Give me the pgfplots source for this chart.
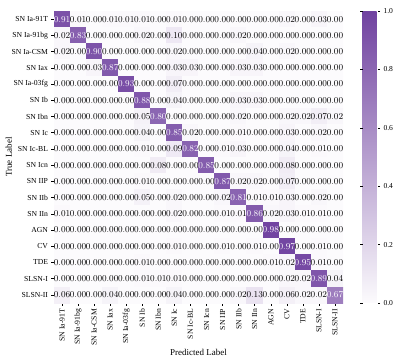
\documentclass[border=0pt]{standalone}
\usepackage{fontspec}
\setmainfont{Liberation Serif}
\usepackage{pgfplots}
\usepackage{pgfplotstable}
\pgfplotsset{compat=1.18}

% confusion matrix, rows = true label, read left to right, top to bottom
\pgfplotstableread[row sep=\\]{
v\\
0.91\\0.01\\0.00\\0.01\\0.01\\0.01\\0.00\\0.01\\0.00\\0.00\\0.00\\0.00\\0.00\\0.00\\0.02\\0.00\\0.03\\0.00\\
0.02\\0.83\\0.00\\0.00\\0.00\\0.02\\0.00\\0.10\\0.00\\0.00\\0.00\\0.02\\0.00\\0.00\\0.00\\0.00\\0.00\\0.00\\
0.02\\0.00\\0.90\\0.00\\0.00\\0.00\\0.00\\0.02\\0.00\\0.00\\0.00\\0.00\\0.04\\0.00\\0.02\\0.00\\0.00\\0.00\\
0.00\\0.00\\0.03\\0.87\\0.00\\0.00\\0.00\\0.03\\0.03\\0.00\\0.00\\0.03\\0.03\\0.00\\0.00\\0.00\\0.00\\0.00\\
0.00\\0.00\\0.00\\0.00\\0.93\\0.00\\0.00\\0.07\\0.00\\0.00\\0.00\\0.00\\0.00\\0.00\\0.00\\0.00\\0.00\\0.00\\
0.00\\0.00\\0.00\\0.00\\0.00\\0.88\\0.00\\0.04\\0.00\\0.00\\0.00\\0.03\\0.03\\0.00\\0.00\\0.00\\0.00\\0.00\\
0.00\\0.00\\0.00\\0.00\\0.00\\0.05\\0.80\\0.00\\0.00\\0.00\\0.00\\0.02\\0.00\\0.00\\0.02\\0.02\\0.07\\0.02\\
0.00\\0.00\\0.00\\0.00\\0.00\\0.04\\0.00\\0.85\\0.02\\0.00\\0.00\\0.01\\0.00\\0.00\\0.03\\0.00\\0.02\\0.00\\
0.00\\0.00\\0.00\\0.00\\0.00\\0.01\\0.00\\0.09\\0.82\\0.00\\0.01\\0.03\\0.00\\0.00\\0.04\\0.00\\0.01\\0.00\\
0.00\\0.00\\0.00\\0.00\\0.00\\0.00\\0.08\\0.00\\0.00\\0.85\\0.00\\0.00\\0.00\\0.00\\0.08\\0.00\\0.00\\0.00\\
0.00\\0.00\\0.00\\0.00\\0.00\\0.01\\0.00\\0.00\\0.00\\0.00\\0.87\\0.02\\0.02\\0.00\\0.07\\0.00\\0.00\\0.00\\
0.00\\0.00\\0.00\\0.00\\0.00\\0.05\\0.00\\0.02\\0.00\\0.00\\0.02\\0.81\\0.01\\0.01\\0.03\\0.00\\0.02\\0.00\\
0.01\\0.00\\0.00\\0.00\\0.00\\0.00\\0.00\\0.02\\0.00\\0.00\\0.01\\0.01\\0.86\\0.02\\0.03\\0.01\\0.01\\0.00\\
0.00\\0.00\\0.00\\0.00\\0.00\\0.00\\0.00\\0.00\\0.00\\0.00\\0.00\\0.00\\0.00\\0.98\\0.00\\0.00\\0.00\\0.00\\
0.00\\0.00\\0.00\\0.00\\0.00\\0.00\\0.00\\0.01\\0.00\\0.00\\0.01\\0.00\\0.01\\0.00\\0.97\\0.00\\0.01\\0.00\\
0.00\\0.00\\0.00\\0.00\\0.00\\0.01\\0.00\\0.00\\0.00\\0.00\\0.00\\0.00\\0.00\\0.01\\0.02\\0.95\\0.01\\0.00\\
0.00\\0.00\\0.00\\0.00\\0.00\\0.01\\0.01\\0.01\\0.00\\0.00\\0.00\\0.00\\0.00\\0.00\\0.02\\0.02\\0.89\\0.04\\
0.06\\0.00\\0.00\\0.04\\0.00\\0.00\\0.00\\0.04\\0.00\\0.00\\0.00\\0.02\\0.13\\0.00\\0.06\\0.02\\0.02\\0.67\\
}\cm

\def\labs{SN Ia-91T,SN Ia-91bg,SN Ia-CSM,SN Iax,SN Ia-03fg,SN Ib,SN Ibn,SN Ic,SN Ic-BL,SN Icn,SN IIP,SN IIb,SN IIn,AGN,CV,TDE,SLSN-I,SLSN-II}

\pgfplotsset{
  % row and column from the running index (offset guards against rounding)
  table/cell/.style={x index=0, y index=0,
    x expr={\coordindex-18*floor((\coordindex+0.5)/18)},
    y expr={floor((\coordindex+0.5)/18)}, meta=v},
  annot/.style={only marks, mark=none, point meta=explicit,
    nodes near coords={\pgfmathprintnumber[fixed,zerofill,precision=2]{\pgfplotspointmeta}},
    nodes near coords align={center},
    every node near coord/.append style={font=\fontsize{8.6}{9}\selectfont, inner sep=0pt, text=#1}},
}

\begin{document}
\begin{tikzpicture}
\useasboundingbox (-54bp,-58bp) rectangle (343bp,303bp);
\begin{axis}[
  at={(0,0)}, anchor=south west,
  scale only axis, width=289bp, height=292bp,
  xmin=-0.5, xmax=17.5, ymin=-0.5, ymax=17.5, y dir=reverse,
  colormap={purp}{rgb255(0cm)=(252,251,253); rgb255(1cm)=(112,66,160)},
  point meta min=0, point meta max=1,
  xtick={0,...,17}, ytick={0,...,17},
  xticklabels/.expanded=\labs, yticklabels/.expanded=\labs,
  xticklabel style={rotate=90, anchor=east, font=\fontsize{7.7}{9}\selectfont},
  yticklabel style={font=\fontsize{7.7}{9}\selectfont},
  tick align=outside, tick pos=left, major tick length=2.5bp,
  tick style={black, line width=0.5pt},
  axis line style={draw=none},
  xlabel={Predicted Label}, ylabel={True Label},
  label style={font=\fontsize{9}{10}\selectfont},
  xlabel style={at={(axis description cs:0.5,-0.168)}, anchor=center},
  ylabel style={at={(axis description cs:-0.156,0.5)}, anchor=center},
  colorbar,
  colorbar style={
    at={(parent axis.north east)}, anchor=north west, xshift=11bp,
    width=15bp, axis line style={draw=none},
    ytick={0,0.2,0.4,0.6,0.8,1}, yticklabels={0.0,0.2,0.4,0.6,0.8,1.0},
    yticklabel style={font=\fontsize{7.6}{8}\selectfont},
    tick align=outside, major tick length=2.5bp, tick style={black},
  },
]
\addplot[matrix plot*, mesh/cols=18, point meta=explicit] table[cell]{\cm};
\addplot[annot=black, restrict expr to domain={\thisrow{v}}{-1:0.5}] table[cell]{\cm};
\addplot[annot=white, restrict expr to domain={\thisrow{v}}{0.5:2}] table[cell]{\cm};
\end{axis}
\end{tikzpicture}
\end{document}
